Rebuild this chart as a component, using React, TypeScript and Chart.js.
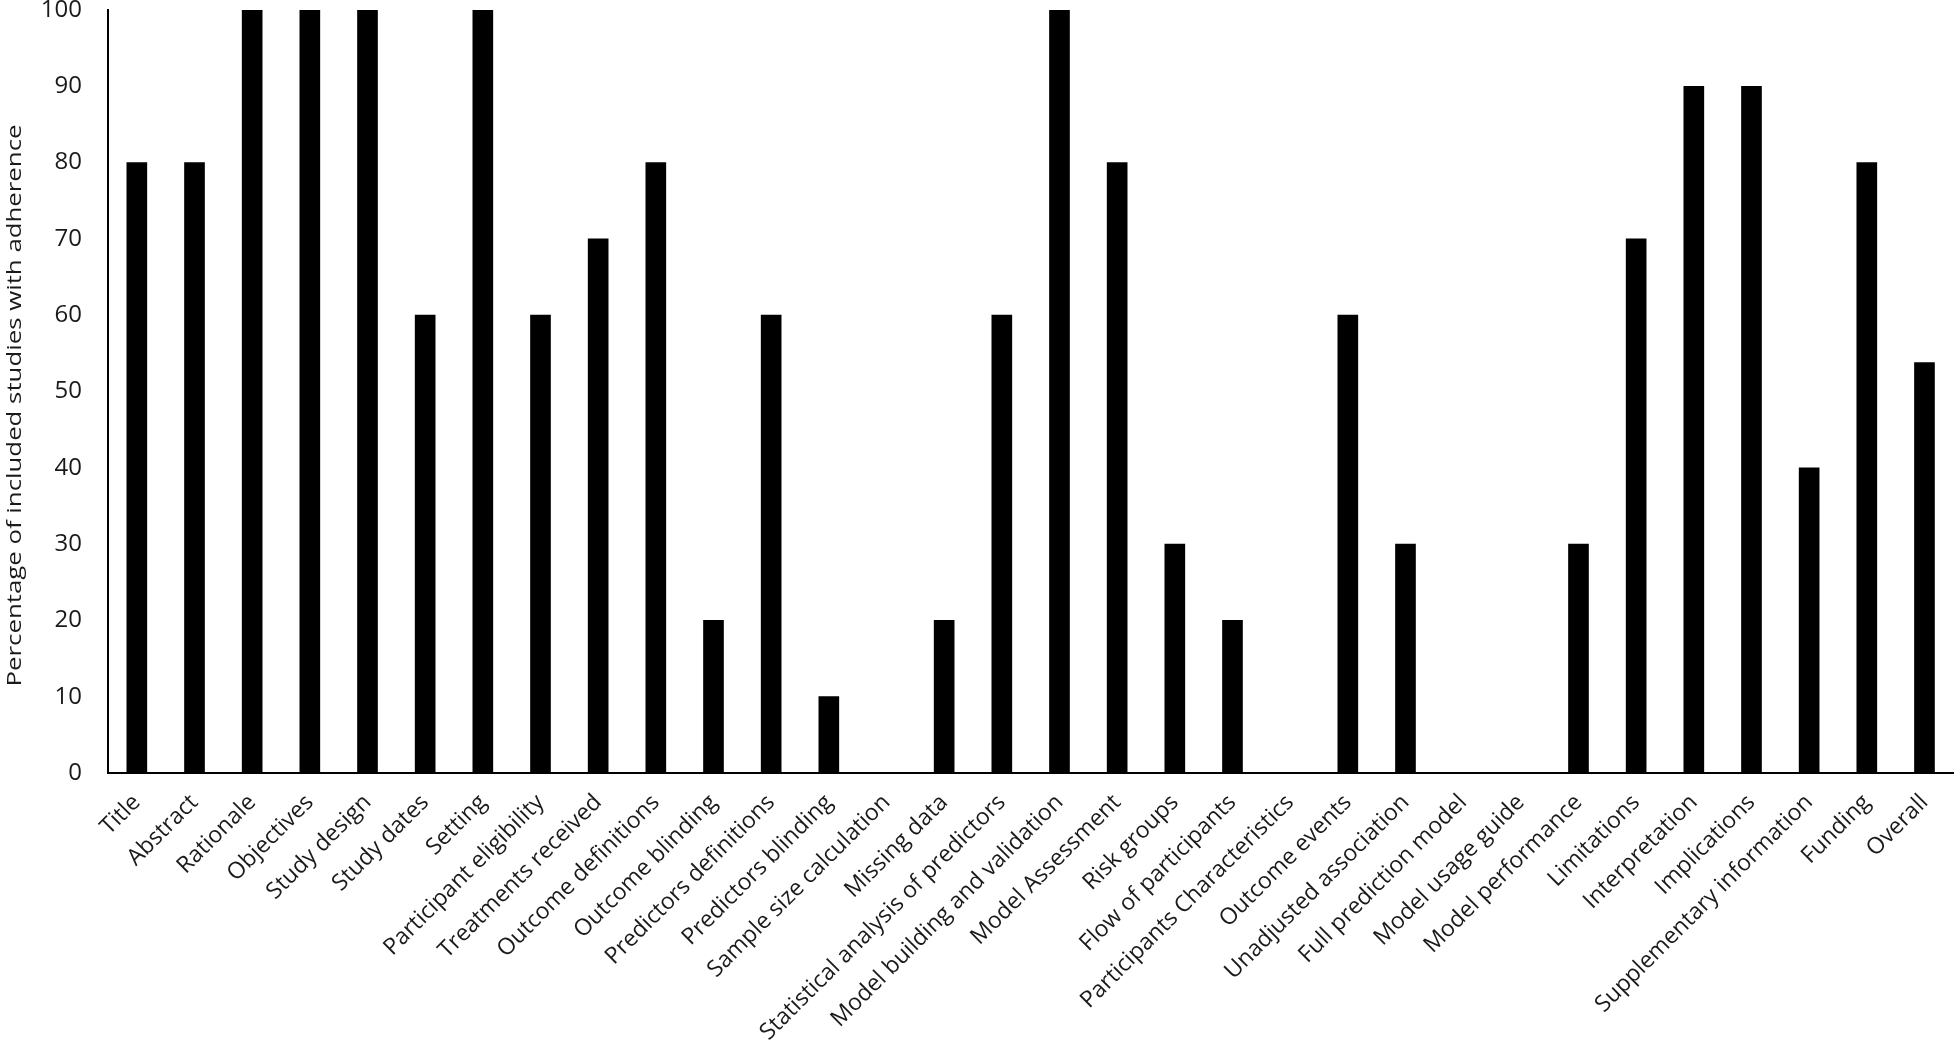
import React, { useEffect, useRef } from "react";
import { Chart, registerables } from "chart.js";

Chart.register(...registerables);

const categories: string[] = [
  "Title",
  "Abstract",
  "Rationale",
  "Objectives",
  "Study design",
  "Study dates",
  "Setting",
  "Participant eligibility",
  "Treatments received",
  "Outcome definitions",
  "Outcome blinding",
  "Predictors definitions",
  "Predictors blinding",
  "Sample size calculation",
  "Missing data",
  "Statistical analysis of predictors",
  "Model building and validation",
  "Model Assessment",
  "Risk groups",
  "Flow of participants",
  "Participants Characteristics",
  "Outcome events",
  "Unadjusted association",
  "Full prediction model",
  "Model usage guide",
  "Model performance",
  "Limitations",
  "Interpretation",
  "Implications",
  "Supplementary information",
  "Funding",
  "Overall",
];

const adherence: number[] = [
  80, 80, 100, 100, 100, 60, 100, 60, 70, 80, 20, 60, 10, 0, 20, 60, 100, 80,
  30, 20, 0, 60, 30, 0, 0, 30, 70, 90, 90, 40, 80, 53.8,
];

const yTitle = "Percentage of included studies with adherence";
const yMin = 0;
const yMax = 100;
const yStep = 10;

const FONT = "'Open Sans', Lato, sans-serif";
const TEXT = "#1a1a1a";

const yTitlePlugin = {
  id: "yTitleStretched",
  afterDraw(chart: any) {
    const ctx = chart.ctx as CanvasRenderingContext2D;
    const area = chart.chartArea;
    ctx.save();
    ctx.font = `20px ${FONT}`;
    ctx.fillStyle = TEXT;
    ctx.textAlign = "center";
    ctx.textBaseline = "middle";
    const w = ctx.measureText(yTitle).width;
    const target = 562;
    const cy = (area.top + area.bottom) / 2 + 14;
    ctx.translate(15, cy);
    ctx.rotate(-Math.PI / 2);
    ctx.scale(target / w, 1);
    ctx.fillText(yTitle, 0, 0);
    ctx.restore();
  },
};

export default function App() {
  const ref = useRef<HTMLCanvasElement | null>(null);

  useEffect(() => {
    document.body.style.margin = "0";
    const canvas = ref.current;
    if (!canvas) return;
    const chart = new Chart(canvas, {
      type: "bar",
      data: {
        labels: categories,
        datasets: [
          {
            data: adherence,
            backgroundColor: "#000000",
            borderWidth: 0,
            barThickness: 20,
          },
        ],
      },
      options: {
        responsive: false,
        animation: false,
        layout: { padding: { top: 0, right: 0, left: 0, bottom: 0 } },
        plugins: {
          legend: { display: false },
          tooltip: { enabled: false },
        },
        scales: {
          x: {
            type: "category",
            offset: true,
            grid: { display: false, drawTicks: false },
            border: { display: true, color: "#000000", width: 2 },
            ticks: {
              autoSkip: false,
              maxRotation: 45,
              minRotation: 45,
              padding: 16,
              color: TEXT,
              font: { family: FONT, size: 23 },
            },
            afterFit: (scale: any) => {
              scale.height = 289;
              scale.paddingTop = 0;
            },
          },
          y: {
            min: yMin,
            max: yMax,
            grid: { display: false, drawTicks: false },
            border: { display: true, color: "#000000", width: 2 },
            ticks: {
              stepSize: yStep,
              padding: 26,
              color: TEXT,
              font: { family: FONT, size: 24 },
            },
            afterFit: (scale: any) => {
              scale.width = 108;
              scale.paddingTop = 10;
              scale.paddingBottom = 0;
            },
          },
        },
      },
      plugins: [yTitlePlugin],
    });
    return () => chart.destroy();
  }, []);

  return (
    <div style={{ width: 1960, height: 1062, background: "#fff" }}>
      <canvas ref={ref} width={1960} height={1062} style={{ display: "block" }} />
    </div>
  );
}
